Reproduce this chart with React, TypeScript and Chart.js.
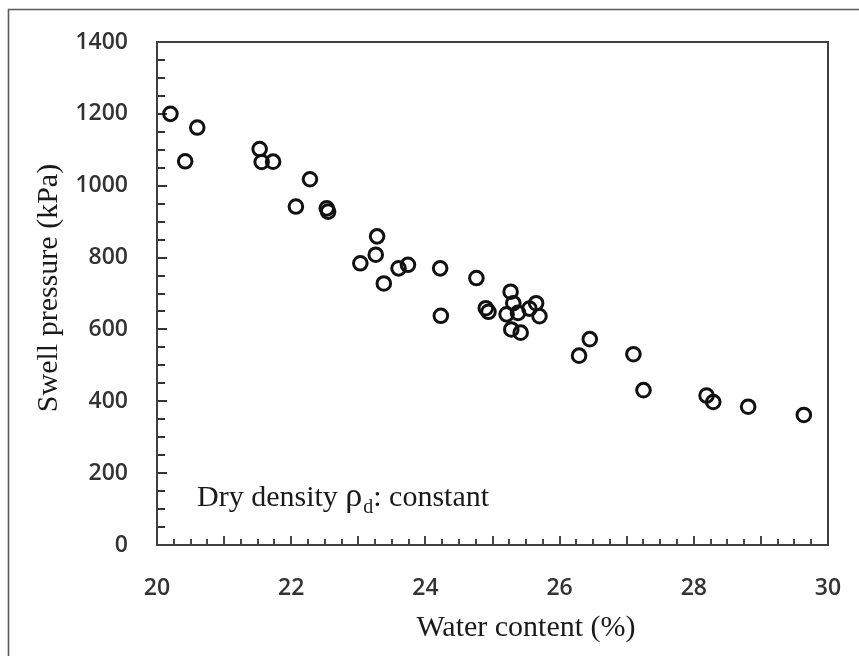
import React, { useEffect, useRef } from "react";
import { Chart, registerables } from "chart.js";

Chart.register(...registerables);

const waterContent = [
  20.2, 20.42, 20.6, 21.53, 21.56, 21.73, 22.07, 22.28, 22.53, 22.55,
  23.03, 23.26, 23.28, 23.38, 23.6, 23.74, 24.22, 24.23, 24.76, 24.9,
  24.94, 25.21, 25.27, 25.28, 25.31, 25.38, 25.42, 25.55, 25.65, 25.7,
  26.29, 26.45, 27.1, 27.25, 28.19, 28.29, 28.81, 29.64,
];
const swellPressure = [
  1200, 1068, 1162, 1102, 1066, 1067, 942, 1018, 937, 928,
  784, 808, 859, 728, 770, 780, 770, 638, 743, 659,
  649, 642, 705, 600, 673, 646, 591, 658, 673, 637,
  527, 573, 531, 431, 416, 398, 385, 362,
];
const xTicks = [20, 22, 24, 26, 28, 30];
const yTicks = [0, 200, 400, 600, 800, 1000, 1200, 1400];
const xTitle = "Water content (%)";
const yTitle = "Swell pressure (kPa)";
const noteMain = "Dry density ";
const noteRho = "\u03c1";
const noteSub = "d";
const noteRest = ": constant";

const SERIF = '"Liberation Serif", "Times New Roman", serif';

const decorPlugin = {
  id: "decor",
  beforeDatasetsDraw(chart: any) {
    const { ctx, chartArea } = chart;
    const xs = chart.scales.x;
    const ys = chart.scales.y;
    ctx.save();
    // outer border (top + left)
    ctx.strokeStyle = "#5a5a5a";
    ctx.lineWidth = 1.6;
    ctx.beginPath();
    ctx.moveTo(8.5, 656);
    ctx.lineTo(8.5, 9.5);
    ctx.lineTo(859, 9.5);
    ctx.stroke();

    // inward ticks
    ctx.strokeStyle = "#333333";
    ctx.lineWidth = 1.8;
    ctx.beginPath();
    for (let i = 1; i < 40; i++) {
      const v = 20 + i * 0.25;
      const px = Math.round(xs.getPixelForValue(v));
      const len = i % 4 === 0 ? 9 : 6;
      ctx.moveTo(px, chartArea.bottom);
      ctx.lineTo(px, chartArea.bottom - len);
    }
    for (let i = 1; i < 28; i++) {
      const v = i * 50;
      const py = Math.round(ys.getPixelForValue(v));
      const len = i % 4 === 0 ? 10 : 8;
      ctx.moveTo(chartArea.left, py);
      ctx.lineTo(chartArea.left + len, py);
    }
    ctx.stroke();

    // frame
    ctx.strokeStyle = "#404040";
    ctx.lineWidth = 2;
    ctx.strokeRect(chartArea.left, chartArea.top, chartArea.right - chartArea.left, chartArea.bottom - chartArea.top);

    // axis titles
    ctx.fillStyle = "#1a1a1a";
    ctx.font = `30px ${SERIF}`;
    ctx.textAlign = "center";
    ctx.textBaseline = "alphabetic";
    ctx.fillText(xTitle, 526, 636);
    ctx.save();
    ctx.translate(57, 288);
    ctx.rotate(-Math.PI / 2);
    ctx.fillText(yTitle, 0, 0);
    ctx.restore();

    // annotation
    ctx.textAlign = "left";
    let x = 197;
    const base = 506;
    ctx.font = `30px ${SERIF}`;
    ctx.fillText(noteMain, x, base);
    x += ctx.measureText(noteMain).width;
    ctx.font = `34px ${SERIF}`;
    ctx.fillText(noteRho, x, base);
    x += ctx.measureText(noteRho).width + 1;
    ctx.font = `20px ${SERIF}`;
    ctx.fillText(noteSub, x, base + 7);
    x += ctx.measureText(noteSub).width;
    ctx.font = `30px ${SERIF}`;
    ctx.fillText(noteRest, x, base);
    ctx.restore();
  },
};

export default function App() {
  const ref = useRef<HTMLCanvasElement | null>(null);
  useEffect(() => {
    if (!ref.current) return;
    const tickFont = { family: '"Open Sans", sans-serif', size: 23, weight: "600" as any };
    const chart = new Chart(ref.current, {
      type: "scatter",
      data: {
        datasets: [
          {
            data: waterContent.map((w, i) => ({ x: w, y: swellPressure[i] })),
            pointStyle: "circle",
            pointRadius: 6.8,
            pointBorderWidth: 3,
            borderColor: "#111111",
            backgroundColor: "rgba(0,0,0,0)",
            clip: false as any,
          },
        ],
      },
      options: {
        animation: false,
        responsive: false,
        devicePixelRatio: 1,
        layout: { padding: { top: 42, right: 31, left: 0, bottom: 0 } },
        plugins: { legend: { display: false }, tooltip: { enabled: false } },
        scales: {
          x: {
            type: "linear",
            min: 20,
            max: 30,
            afterBuildTicks: (s: any) => {
              s.ticks = xTicks.map((v) => ({ value: v }));
            },
            afterFit: (s: any) => {
              s.height = 111;
              s.paddingLeft = 10;
              s.paddingRight = 10;
            },
            grid: { display: false, drawTicks: false },
            border: { display: false },
            ticks: { color: "#333333", font: tickFont, padding: 30, maxRotation: 0, callback: (v: any) => String(v) },
          },
          y: {
            type: "linear",
            min: 0,
            max: 1400,
            afterBuildTicks: (s: any) => {
              s.ticks = yTicks.map((v) => ({ value: v }));
            },
            afterFit: (s: any) => {
              s.width = 157;
              s.paddingTop = 10;
              s.paddingBottom = 10;
            },
            grid: { display: false, drawTicks: false },
            border: { display: false },
            ticks: { color: "#333333", font: tickFont, padding: 29, callback: (v: any) => String(v) },
          },
        },
      },
      plugins: [decorPlugin],
    });
    return () => chart.destroy();
  }, []);
  return (
    <div style={{ position: "fixed", left: 0, top: 0, width: 859, height: 656, background: "#fff" }}>
      <canvas ref={ref} width={859} height={656} style={{ width: 859, height: 656, display: "block" }} />
    </div>
  );
}
